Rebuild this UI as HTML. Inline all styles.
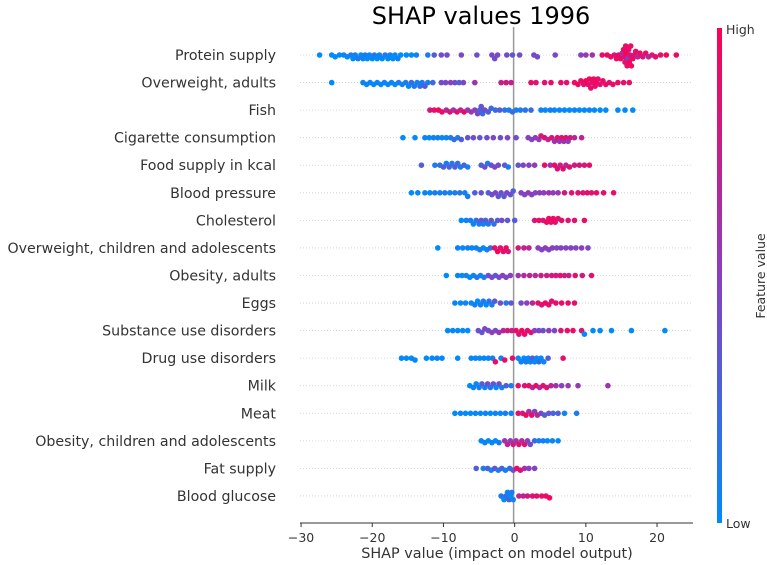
<!DOCTYPE html>
<html><head><meta charset="utf-8"><style>
html,body{margin:0;padding:0;background:#fff;}
svg{display:block;font-family:"DejaVu Sans","Liberation Sans",sans-serif;}
</style></head><body>
<svg id="chart" width="767" height="565" viewBox="0 0 767 565">
<defs><linearGradient id="cbar" x1="0" y1="1" x2="0" y2="0">
<stop offset="0" stop-color="#008bfb"/><stop offset="0.5" stop-color="#8a3fbf"/><stop offset="1" stop-color="#ff0052"/></linearGradient></defs>
<text x="481" y="24" text-anchor="middle" font-size="24" fill="#000">SHAP values 1996</text>
<g id="grid"></g>
<line x1="513.6" y1="27" x2="513.6" y2="523" stroke="#999" stroke-width="1.5"/>
<g id="dots"></g>
<g id="labels"></g>
<line x1="300" y1="523" x2="693" y2="523" stroke="#333" stroke-width="1"/>
<g id="ticks"></g>
<text x="497" y="558" text-anchor="middle" font-size="14.4" fill="#333">SHAP value (impact on model output)</text>
<rect x="717" y="28" width="5" height="495" fill="url(#cbar)"/>
<text x="726" y="34" font-size="12.5" fill="#333">High</text>
<text x="726" y="528" font-size="12.5" fill="#333">Low</text>
<text transform="translate(765,276) rotate(-90)" text-anchor="middle" font-size="12.5" fill="#333">Feature value</text>
</svg>
<script>
const features = ["Protein supply","Overweight, adults","Fish","Cigarette consumption","Food supply in kcal","Blood pressure","Cholesterol","Overweight, children and adolescents","Obesity, adults","Eggs","Substance use disorders","Drug use disorders","Milk","Meat","Obesity, children and adolescents","Fat supply","Blood glucose"];
const xTicks = [-30,-20,-10,0,10,20];
// each row: [shapValue, featureValue(0..1)]
const protein = [[-27.4,0],[-25.7,0],[-25.2,0],[-24.6,0],[-24,0.05],[-23.5,0],[-23,0.1],[-22.7,0],[-22.4,0.05],[-22,0.1],[-21.6,0],[-21.3,0.05],[-21,0.1],[-20.7,0],[-20.4,0.05],[-20,0],[-19.7,0.1],[-19.3,0],[-19,0.05],[-18.6,0],[-18.2,0.1],[-17.8,0],[-17.5,0.05],[-17.1,0],[-16.8,0],[-16.4,0.05],[-16,0],[-15.2,0],[-14.5,0],[-13.8,0.05],[-12.2,0.1],[-11.3,0.3],[-10.3,0.4],[-9.5,0.4],[-7.5,0.45],[-5.3,0.4],[-3.2,0.45],[-2.8,0.4],[-2.4,0.45],[-1.1,0.4],[-0.3,0.35],[0.7,0.4],[2.7,0.45],[3.2,0.4],[5.7,0.45],[9.3,0.5],[10,0.55],[10.9,0.6],[12.3,0.9],[13,0.95],[13.5,0.9],[14,0.85],[14.3,0.9],[14.6,0.95],[14.9,0.9],[15.1,0.6],[15.3,0.95],[15.4,0.9],[15.5,0.85],[15.6,0.9],[15.7,0.95],[15.8,0.9],[15.9,0.5],[16,0.9],[16.1,0.95],[16.2,0.85],[16.3,0.9],[16.4,0.95],[16.6,0.9],[16.8,0.85],[17,0.9],[17.3,0.7],[17.6,0.9],[18,0.8],[18.4,0.9],[18.8,0.7],[19.3,0.8],[19.8,0.9],[20.5,0.9],[21.3,0.95],[22.7,0.95]];
const overweightAdults = [[-25.7,0],[-21.3,0.05],[-20.8,0],[-20.3,0.05],[-19.8,0],[-19.3,0.05],[-18.8,0],[-18.3,0.05],[-17.8,0],[-17.3,0.05],[-16.8,0],[-16.3,0.1],[-15.8,0.05],[-15.3,0.1],[-14.9,0],[-14.5,0.2],[-14.1,0.1],[-13.7,0.05],[-13.3,0.2],[-13,0.1],[-12.6,0.3],[-12.2,0.1],[-11.5,0.2],[-10.3,0.4],[-9.7,0.45],[-9,0.5],[-8.4,0.4],[-7.8,0.3],[-7.2,0.45],[-5.6,0.6],[-1.9,0.75],[-1.2,0.8],[-0.5,0.75],[2.3,0.9],[3,0.85],[4.2,0.85],[5.1,0.9],[6.5,0.9],[7.3,0.85],[8.4,0.9],[8.9,0.95],[9.3,0.9],[9.7,0.85],[10,0.95],[10.3,0.9],[10.5,0.95],[10.7,0.9],[10.9,0.85],[11.1,0.95],[11.3,0.9],[11.5,0.95],[11.7,0.9],[12,0.85],[12.4,0.9],[12.8,0.95],[13.3,0.85],[13.8,0.9],[14.5,0.9],[15.3,0.9],[16.1,0.9]];
const fish = [[-11.9,0.8],[-11.3,0.9],[-10.7,0.95],[-10.2,0.9],[-9.6,0.7],[-9.1,0.85],[-8.6,0.6],[-8.1,0.9],[-7.6,0.7],[-7.1,0.95],[-6.6,0.6],[-6.1,0.55],[-5.6,0.5],[-5.2,0.45],[-4.9,0.3],[-4.7,0.35],[-4.5,0.2],[-4.2,0.4],[-3.7,0.3],[-3.3,0.25],[-2.7,0.2],[-2.1,0.3],[-1.4,0.15],[-0.8,0.1],[-0.3,0.2],[0.2,0.1],[0.8,0.1],[1.5,0.15],[2.3,0.2],[3.7,0.05],[4.3,0],[5,0.1],[5.6,0],[6.3,0.05],[7,0],[7.7,0],[8.4,0.05],[9.1,0],[9.8,0],[10.5,0.05],[11.2,0],[12,0],[12.8,0],[14.5,0],[15.5,0],[16.6,0]];
const cigarette = [[-15.7,0],[-14,0],[-12.6,0.05],[-12,0],[-11.4,0.05],[-10.8,0.1],[-10.2,0],[-9.6,0.05],[-9,0.1],[-8.5,0.2],[-8,0.1],[-7.5,0.3],[-6.6,0.35],[-5.8,0.4],[-4.9,0.35],[-3.9,0.4],[-3,0.45],[-2,0.4],[-1,0.45],[0.2,0.4],[1.9,0.5],[2.4,0.45],[2.9,0.55],[3.4,0.5],[3.7,0.8],[4.2,0.9],[4.7,0.7],[5.2,0.85],[5.6,0.6],[6,0.9],[6.3,0.55],[6.6,0.85],[6.9,0.6],[7.2,0.9],[7.5,0.5],[7.8,0.8],[8.4,0.7],[9.4,0.7]];
const foodKcal = [[-13.1,0.3],[-11.2,0.1],[-10.5,0.2],[-10,0.3],[-9.6,0.1],[-9.2,0.25],[-8.8,0.15],[-8.4,0.3],[-8,0.2],[-7.6,0.1],[-7.1,0.25],[-6.6,0.1],[-4.7,0.3],[-4.2,0.4],[-3.8,0.1],[-3.3,0.35],[-2.8,0.45],[-2.3,0.4],[-1.4,0.35],[-0.9,0.1],[0.5,0.35],[1.2,0.45],[2,0.5],[2.8,0.5],[4.2,0.9],[5,0.6],[5.6,0.9],[6,0.85],[6.4,0.75],[6.8,0.9],[7.2,0.7],[7.7,0.85],[8.4,0.8],[9.1,0.85],[9.8,0.8],[10.5,0.9]];
const bloodPressure = [[-14.5,0],[-13.6,0],[-12.6,0.05],[-11.9,0],[-11.2,0.1],[-10.5,0.05],[-9.8,0.1],[-9.1,0.05],[-8.4,0.1],[-7.7,0.15],[-7,0.05],[-6.6,0.1],[-5.6,0.3],[-4.7,0.35],[-3.7,0.3],[-3.2,0.4],[-2.7,0.45],[-2.3,0.35],[-1.9,0.4],[-1.5,0.3],[-1.1,0.45],[-0.6,0.4],[-0.2,0.3],[0.9,0.5],[1.4,0.45],[1.9,0.55],[2.4,0.5],[2.9,0.45],[3.5,0.55],[4.1,0.5],[4.8,0.6],[5.4,0.5],[6.1,0.55],[7,0.8],[8,0.85],[8.9,0.9],[9.6,0.8],[10.2,0.9],[10.8,0.85],[11.5,0.9],[12.5,0.9],[13.9,0.9]];
const cholesterol = [[-7.5,0],[-6.8,0.05],[-6.2,0.1],[-5.8,0],[-5.4,0.2],[-5,0.1],[-4.7,0.35],[-4.4,0.05],[-4.1,0.3],[-3.7,0.1],[-3.3,0.35],[-2.9,0.2],[-2.4,0.3],[-1.8,0.4],[-1,0.35],[0,0.3],[2.8,0.8],[3.4,0.9],[4,0.85],[4.5,0.95],[4.8,0.9],[5.1,0.85],[5.4,0.95],[5.7,0.9],[6.1,0.85],[6.6,0.9],[7.5,0.85],[8.4,0.85],[9.8,0.9]];
const overweightChildren = [[-10.8,0],[-8,0.05],[-7.3,0],[-6.6,0.1],[-6,0],[-5.4,0.05],[-4.9,0.1],[-4.4,0],[-3.9,0.05],[-3.4,0.2],[-2.8,0.9],[-2.4,0.95],[-2,0.85],[-1.6,0.9],[-1.2,0.95],[-0.9,0.8],[0.5,0.8],[1.3,0.75],[2,0.7],[3.3,0.5],[3.8,0.45],[4.3,0.55],[4.8,0.45],[5.3,0.5],[5.9,0.45],[6.5,0.5],[7.2,0.45],[7.9,0.5],[8.6,0.45],[9.4,0.5],[10.3,0.45]];
const obesityAdults = [[-9.6,0],[-8,0.05],[-7.4,0],[-6.8,0.1],[-6.3,0],[-5.8,0.05],[-5.3,0.15],[-4.8,0.05],[-4.3,0.1],[-3.7,0.4],[-3.2,0.45],[-2.7,0.35],[-2.2,0.4],[-1.7,0.5],[-1.2,0.45],[-0.6,0.5],[0.5,0.6],[1.3,0.65],[2.1,0.7],[2.9,0.65],[3.7,0.8],[4.5,0.75],[5.2,0.85],[5.8,0.8],[6.4,0.9],[7,0.8],[7.6,0.75],[8.5,0.9],[9.5,0.8],[10.8,0.9]];
const eggs = [[-8.4,0.05],[-7.6,0],[-6.9,0.05],[-6.1,0],[-5.6,0.1],[-5.2,0],[-4.8,0.05],[-4.4,0.1],[-4,0],[-3.6,0.15],[-3.2,0.1],[-2.8,0.3],[-2,0.4],[-1.2,0.1],[-0.5,0.35],[0.9,0.4],[1.7,0.5],[2.5,0.7],[3.3,0.9],[3.8,0.85],[4.3,0.95],[4.8,0.9],[5.2,0.85],[5.8,0.9],[6.6,0.9],[7.5,0.9],[8.4,0.9]];
const substance = [[-9.4,0],[-8.7,0.05],[-8,0],[-7.3,0],[-6.6,0],[-5.1,0.4],[-4.6,0.35],[-4.2,0.45],[-3.7,0.4],[-3.2,0.5],[-2.7,0.45],[-2.2,0.55],[-1.6,0.7],[-1,0.8],[-0.4,0.75],[0.2,0.9],[0.6,0.85],[1,0.95],[1.4,0.9],[1.8,0.85],[2.3,0.9],[2.8,0.5],[3.4,0.45],[4,0.4],[4.8,0.5],[5.6,0.45],[6.5,0.85],[7.4,0.9],[8.2,0.9],[9.4,0.85],[9.8,0],[11,0],[12,0],[13.6,0],[16.4,0],[21.1,0]];
const drug = [[-15.9,0],[-15.2,0],[-14.5,0.05],[-14,0],[-12.4,0],[-11.6,0],[-10.9,0.05],[-10.2,0],[-8,0],[-6.1,0],[-5.5,0.05],[-4.9,0],[-4.3,0.05],[-3.7,0],[-3.1,0.1],[-2.7,0.9],[-1.9,0.05],[-1.4,0.9],[-0.3,0.9],[0.5,0],[0.9,0.05],[1.3,0],[1.6,0.1],[1.9,0],[2.2,0.05],[2.5,0.3],[2.8,0],[3.1,0.05],[3.4,0.2],[3.7,0],[4.1,0.05],[4.7,0.3],[6.8,0.9]];
const milk = [[-6.3,0],[-5.8,0.05],[-5.4,0],[-5,0.1],[-4.6,0.3],[-4.2,0.05],[-3.8,0.4],[-3.4,0.1],[-3,0.35],[-2.6,0],[-2.2,0.4],[-1.8,0.05],[-1.2,0.3],[-0.5,0.1],[0.5,0.9],[1.4,0.85],[2,0.9],[2.5,0.7],[3,0.95],[3.5,0.6],[4,0.9],[4.5,0.85],[5.1,0.7],[5.8,0.6],[6.6,0.5],[7.5,0.55],[8.9,0.55],[13.1,0.6]];
const meat = [[-8.4,0],[-7.6,0.05],[-6.9,0],[-6.2,0],[-5.5,0.05],[-4.8,0],[-4.1,0.05],[-3.4,0],[-2.7,0.05],[-2,0],[-1.3,0.1],[-0.5,0.05],[0.5,0.9],[1.1,0.8],[1.6,0.95],[2,0.6],[2.4,0.9],[2.8,0.5],[3.2,0.7],[3.7,0.45],[4.2,0.3],[4.8,0.35],[5.4,0.25],[6.1,0.3],[7,0.05],[8.7,0.1]];
const obesityChildren = [[-4.7,0],[-4.2,0.05],[-3.7,0],[-3.2,0.05],[-2.7,0],[-2.2,0.1],[-1.4,0.6],[-1,0.7],[-0.6,0.55],[-0.2,0.8],[0.2,0.6],[0.6,0.9],[1,0.65],[1.4,0.85],[1.8,0.5],[2.2,0.4],[2.8,0.2],[3.4,0.05],[4,0.1],[4.6,0],[5.3,0.05],[6.1,0]];
const fatSupply = [[-5.4,0.3],[-4.4,0.1],[-3.8,0.3],[-3.3,0.05],[-2.8,0.35],[-2.3,0.1],[-1.8,0.3],[-1.3,0.05],[-0.7,0.2],[-0.2,0.4],[0.3,0.9],[0.8,0.85],[1.4,0.6],[2,0.5],[2.8,0.45]];
const bloodGlucose = [[-1.9,0.1],[-1.5,0],[-1.2,0.2],[-1,0.05],[-0.8,0.3],[-0.6,0],[-0.4,0.1],[-0.2,0.05],[0.6,0.7],[1.2,0.75],[1.8,0.8],[2.5,0.85],[3.1,0.85],[3.8,0.9],[4.4,0.9],[4.9,0.95]];
const rows = [protein,overweightAdults,fish,cigarette,foodKcal,bloodPressure,cholesterol,overweightChildren,obesityAdults,eggs,substance,drug,milk,meat,obesityChildren,fatSupply,bloodGlucose];

const NS="http://www.w3.org/2000/svg";
const X0=300,X1=693,xMin=-30.15,xMax=25.05;
function xs(v){return X0+(v-xMin)/(xMax-xMin)*(X1-X0);}
function ys(i){return 55+i*27.56;}
function col(c){
  const a=[0,139,251],m=[138,63,191],b=[255,0,82];
  let p,q,t; if(c<0.5){p=a;q=m;t=c/0.5;}else{p=m;q=b;t=(c-0.5)/0.5;}
  return "rgb("+p.map((v,k)=>Math.round(v+(q[k]-v)*t)).join(",")+")";
}
const g=document.getElementById("grid"),d=document.getElementById("dots"),L=document.getElementById("labels"),T=document.getElementById("ticks");
features.forEach((f,i)=>{
  const y=ys(i);
  const ln=document.createElementNS(NS,"line");
  ln.setAttribute("x1",X0);ln.setAttribute("x2",X1);ln.setAttribute("y1",y);ln.setAttribute("y2",y);
  ln.setAttribute("stroke","#ccc");ln.setAttribute("stroke-dasharray","1,2");ln.setAttribute("stroke-width","0.8");
  
  
  g.appendChild(ln);
  const t=document.createElementNS(NS,"text");
  t.setAttribute("x",276);t.setAttribute("y",y+5);t.setAttribute("text-anchor","end");
  t.setAttribute("font-size","14.2");t.setAttribute("fill","#333");t.textContent=f;
  
  
  L.appendChild(t);
  const pts=rows[i].map(p=>({x:xs(p[0]),c:p[1]})).sort((a,b)=>a.x-b.x);
  const placed=[],R=5;
  pts.forEach(p=>{
    let dy=0;
    for(let k=0;k<40;k++){
      const cand=(k%2?1:-1)*Math.ceil(k/2)*1.8;
      const ok=placed.every(q=>{const dx=q.x-p.x,ddy=q.dy-cand;return dx*dx+ddy*ddy>=R*R*0.55;});
      if(ok){dy=cand;break;}
      dy=cand;
    }
    dy=Math.max(-11,Math.min(11,dy));
    p.dy=dy;placed.push(p);
    const c=document.createElementNS(NS,"circle");
    c.setAttribute("cx",p.x.toFixed(1));c.setAttribute("cy",(y+dy).toFixed(1));c.setAttribute("r","2.8");
    c.setAttribute("fill",col(p.c));
    
    
    d.appendChild(c);
  });
});
xTicks.forEach(v=>{
  const x=xs(v);
  const tl=document.createElementNS(NS,"line");
  tl.setAttribute("x1",x);tl.setAttribute("x2",x);tl.setAttribute("y1",523);tl.setAttribute("y2",527);tl.setAttribute("stroke","#333");
  
  
  T.appendChild(tl);
  const tt=document.createElementNS(NS,"text");
  tt.setAttribute("x",x);tt.setAttribute("y",542);tt.setAttribute("text-anchor","middle");tt.setAttribute("font-size","12.5");tt.setAttribute("fill","#333");
  tt.textContent=v<0?"\u2212"+Math.abs(v):String(v);
  
  
  T.appendChild(tt);
});
</script>
</body></html>
